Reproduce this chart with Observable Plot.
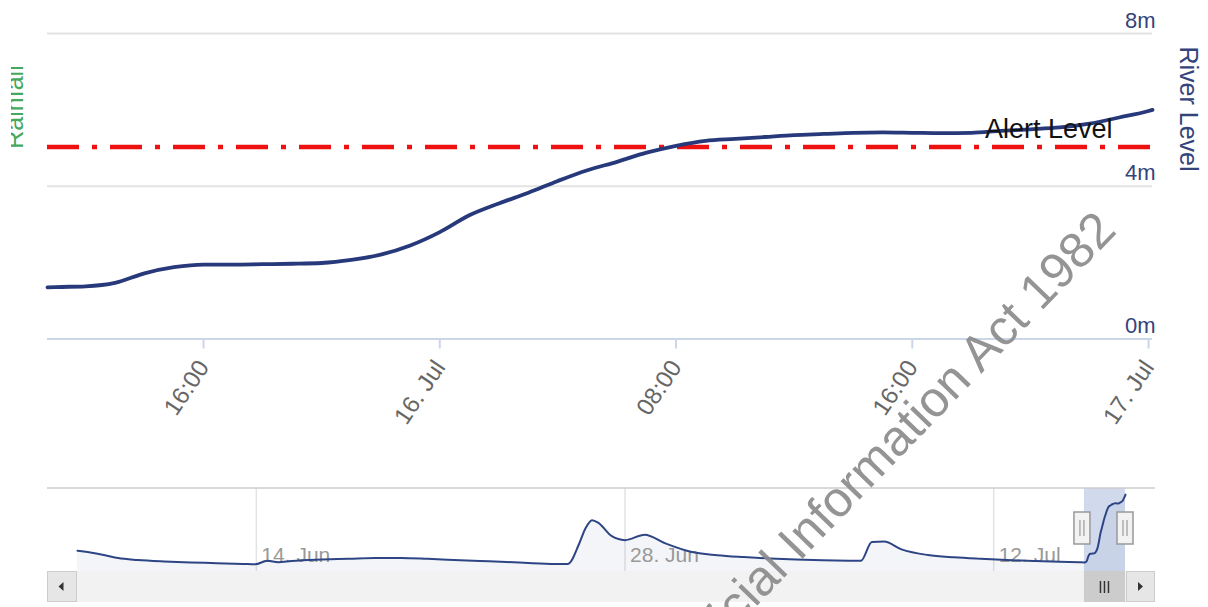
<!DOCTYPE html>
<html><head><meta charset="utf-8">
<script src="https://cdn.jsdelivr.net/npm/d3@7"></script>
<script src="https://cdn.jsdelivr.net/npm/@observablehq/plot@0.6"></script>
<style>
html,body{margin:0;padding:0;background:#fff;overflow:hidden;}
#wrap{position:relative;width:1208px;height:607px;overflow:hidden;font-family:"Liberation Sans",Arial,sans-serif;}
#wrap > svg{position:absolute;left:0;top:0;}
</style></head><body><div id="wrap"></div>
<script>
// ---- data: main (zoomed) river level series ----
const mainTimes = [
  "2021-07-15T10:43","2021-07-15T11:00","2021-07-15T12:00","2021-07-15T13:00","2021-07-15T14:00",
  "2021-07-15T15:00","2021-07-15T16:00","2021-07-15T17:00","2021-07-15T18:00","2021-07-15T19:00",
  "2021-07-15T20:00","2021-07-15T21:00","2021-07-15T22:00","2021-07-15T23:00","2021-07-16T00:00",
  "2021-07-16T01:00","2021-07-16T02:00","2021-07-16T03:00","2021-07-16T04:00","2021-07-16T05:00",
  "2021-07-16T06:00","2021-07-16T07:00","2021-07-16T08:00","2021-07-16T09:00","2021-07-16T10:00",
  "2021-07-16T11:00","2021-07-16T12:00","2021-07-16T13:00","2021-07-16T14:00","2021-07-16T15:00",
  "2021-07-16T16:00","2021-07-16T17:00","2021-07-16T18:00","2021-07-16T19:00","2021-07-16T20:00",
  "2021-07-16T21:00","2021-07-16T22:00","2021-07-16T23:00","2021-07-17T00:00","2021-07-17T00:08"
];
const mainLevels = [
  1.35,1.36,1.38,1.47,1.72,
  1.88,1.95,1.95,1.96,1.97,
  1.99,2.07,2.21,2.45,2.80,
  3.24,3.55,3.83,4.14,4.42,
  4.64,4.88,5.06,5.19,5.24,
  5.29,5.34,5.37,5.40,5.41,
  5.40,5.39,5.40,5.45,5.49,
  5.54,5.64,5.80,5.97,6.00
];
// ---- data: navigator history before the zoomed window ----
const navTimes = [
  "2021-06-07T05:00","2021-06-07T18:00","2021-06-08T06:00","2021-06-08T18:00","2021-06-09T12:00",
  "2021-06-10T12:00","2021-06-11T12:00","2021-06-12T12:00","2021-06-13T12:00","2021-06-13T23:00",
  "2021-06-14T10:00","2021-06-14T20:00","2021-06-15T08:00","2021-06-16T12:00","2021-06-17T12:00",
  "2021-06-18T12:00","2021-06-19T12:00","2021-06-20T12:00","2021-06-21T12:00","2021-06-22T12:00",
  "2021-06-23T12:00","2021-06-24T12:00","2021-06-25T12:00","2021-06-25T20:00","2021-06-26T06:00",
  "2021-06-26T12:00","2021-06-26T18:00","2021-06-27T00:00","2021-06-27T12:00","2021-06-28T00:00",
  "2021-06-28T18:00","2021-06-29T12:00","2021-06-30T12:00","2021-07-01T12:00","2021-07-02T12:00",
  "2021-07-03T12:00","2021-07-04T12:00","2021-07-05T12:00","2021-07-06T12:00","2021-07-06T23:00",
  "2021-07-07T09:00","2021-07-07T20:00","2021-07-08T12:00","2021-07-09T12:00","2021-07-10T12:00",
  "2021-07-11T12:00","2021-07-12T12:00","2021-07-13T12:00","2021-07-14T12:00","2021-07-15T06:00"
];
const navLevels = [
  2.15,2.02,1.85,1.65,1.52,
  1.42,1.35,1.30,1.25,1.22,
  1.47,1.36,1.45,1.55,1.60,
  1.66,1.66,1.60,1.52,1.45,
  1.38,1.30,1.24,1.25,2.60,
  3.70,4.25,4.05,3.15,2.88,
  3.25,2.68,2.08,1.85,1.72,
  1.62,1.55,1.50,1.47,1.46,
  2.75,2.78,2.25,1.86,1.70,
  1.60,1.52,1.45,1.39,1.36
];
const alertLevel = 5.03;
const alertLabel = "Alert Level";
const yTicks = [0, 4, 8];
const xTickTimes = ["2021-07-15T16:00","2021-07-16T00:00","2021-07-16T08:00","2021-07-16T16:00","2021-07-17T00:00"];
const navTickTimes = ["2021-06-14T00:00","2021-06-28T00:00","2021-07-12T00:00"];
const yAxisTitle = "River Level";
const y2AxisTitle = "Rainfall";
const watermark = "Released under the Official Information Act 1982";

// ---- build ----
const parse = d3.utcParse("%Y-%m-%dT%H:%M");
const main = mainTimes.map((t, i) => ({date: parse(t), level: mainLevels[i]}));
const navAll = navTimes.map((t, i) => ({date: parse(t), level: navLevels[i]})).concat(main);
const xTicks = xTickTimes.map(parse);
const navTicks = navTickTimes.map(parse);
const fmtTick = d => (d.getUTCHours() === 0 && d.getUTCMinutes() === 0) ? d3.utcFormat("%-d. %b")(d) : d3.utcFormat("%H:%M")(d);
const font = "'Liberation Sans', Arial, sans-serif";
const wrap = document.getElementById("wrap");

const mainPlot = Plot.plot({
  width: 1208, height: 480,
  marginLeft: 47, marginRight: 56, marginTop: 33, marginBottom: 141.5,
  style: {background: "transparent", fontFamily: font, overflow: "visible"},
  x: {type: "utc", domain: d3.extent(main, d => d.date)},
  y: {domain: [0, 8]},
  marks: [
    Plot.gridY([4, 8], {stroke: "#e3e3e3", strokeOpacity: 1, strokeWidth: 2}),
    Plot.ruleY([0], {stroke: "#ccd6eb", strokeWidth: 2}),
    Plot.axisX(xTicks, {tickSize: 10, tickPadding: 14, tickRotate: -56, tickFormat: fmtTick, stroke: "#ccd6eb", strokeWidth: 2, color: "#666", fontSize: 24, label: null}),
    Plot.axisY(yTicks, {anchor: "right", tickSize: 0, tickPadding: 0, textAnchor: "end", dx: 3, dy: -13, tickFormat: d => d + "m", color: "#34447a", fontSize: 22, label: null}),
    Plot.ruleY([alertLevel], {stroke: "#ee1111", strokeWidth: 4.5, strokeDasharray: "32,13,5,13"}),
    Plot.line(main, {x: "date", y: "level", stroke: "#27397a", strokeWidth: 3.8, curve: "monotone-x"}),
    Plot.text([alertLabel], {text: d => d, y: [alertLevel], frameAnchor: "right", textAnchor: "end", dx: -40, dy: -18, fill: "#111", fontSize: 27})
  ]
});
wrap.appendChild(mainPlot);

const navStart = navAll[0].date, navEnd = main[main.length - 1].date;
const navPlot = Plot.plot({
  width: 1208, height: 607,
  marginLeft: 77, marginRight: 83, marginTop: 488, marginBottom: 36,
  style: {background: "transparent", fontFamily: font, overflow: "visible"},
  x: {type: "utc", domain: [navStart, navEnd], axis: null},
  y: {domain: [0.73, 6.42], axis: null},
  marks: [
    Plot.ruleX(navTicks, {stroke: "#e3e3e3", strokeWidth: 1.5}),
    Plot.areaY(navAll, {x: "date", y: "level", fill: "#27397a", fillOpacity: 0.05, curve: "monotone-x", clip: true}),
    Plot.text(navTicks, {x: d => d, text: d => d3.utcFormat("%-d. %b")(d), frameAnchor: "bottom", textAnchor: "start", dx: 5, dy: -10, fill: "#999", fontSize: 21}),
    Plot.rect([{a: main[0].date, b: navEnd}], {x1: "a", x2: "b", fill: "#6685c2", fillOpacity: 0.3}),
    Plot.line(navAll, {x: "date", y: "level", stroke: "#2e4585", strokeWidth: 2, curve: "monotone-x"})
  ]
});
wrap.appendChild(navPlot);

// ---- overlay: navigator chrome, scrollbar, axis titles, watermark ----
const sx = navPlot.scale("x");
const m1 = sx.apply(main[0].date), m2 = sx.apply(navEnd);
const ov = d3.create("svg").attr("width", 1208).attr("height", 607).style("font-family", font);
ov.append("line").attr("x1", 47).attr("x2", 1155).attr("y1", 488).attr("y2", 488).attr("stroke", "#ccc").attr("stroke-width", 1.5);
ov.append("rect").attr("x", 47).attr("y", 571).attr("width", 1108).attr("height", 31).attr("fill", "#f2f2f2");
ov.append("rect").attr("x", m1).attr("y", 571).attr("width", m2 - m1).attr("height", 31).attr("fill", "#cccccc");
const mc = (m1 + m2) / 2;
[-4, 0, 4].forEach(o => ov.append("line").attr("x1", mc + o).attr("x2", mc + o).attr("y1", 581).attr("y2", 593).attr("stroke", "#333").attr("stroke-width", 1.5));
ov.append("rect").attr("x", 47.5).attr("y", 571.5).attr("width", 29).attr("height", 30).attr("fill", "#e6e6e6").attr("stroke", "#ccc");
ov.append("path").attr("d", "M63.5 582 L58.5 586.5 L63.5 591 Z").attr("fill", "#333");
ov.append("rect").attr("x", 1126.5).attr("y", 571.5).attr("width", 28).attr("height", 30).attr("fill", "#e6e6e6").attr("stroke", "#ccc");
ov.append("path").attr("d", "M1138 582 L1143 586.5 L1138 591 Z").attr("fill", "#333");
[m1 - 2, m2].forEach(x => {
  ov.append("rect").attr("x", x - 8).attr("y", 512).attr("width", 16).attr("height", 32).attr("fill", "#f2f2f2").attr("stroke", "#999").attr("stroke-width", 1.5);
  [-2, 2].forEach(o => ov.append("line").attr("x1", x + o).attr("x2", x + o).attr("y1", 520).attr("y2", 536).attr("stroke", "#999").attr("stroke-width", 1.2));
});
ov.append("clipPath").attr("id", "lc").append("rect").attr("x", 11).attr("y", 0).attr("width", 40).attr("height", 300);
ov.append("g").attr("clip-path", "url(#lc)")
  .append("text").attr("transform", "translate(23,107) rotate(-90)").attr("text-anchor", "middle").attr("font-size", 25).attr("fill", "#45a85a").text(y2AxisTitle);
ov.append("text").attr("transform", "translate(1180,109) rotate(90)").attr("text-anchor", "middle").attr("font-size", 25).attr("fill", "#34447a").text(yAxisTitle);
ov.append("text").attr("transform", "translate(1118,232) rotate(-46)").attr("text-anchor", "end").attr("font-size", 50).attr("fill", "#8b8b8b").attr("fill-opacity", 0.92).text(watermark);
wrap.appendChild(ov.node());
</script></body></html>
